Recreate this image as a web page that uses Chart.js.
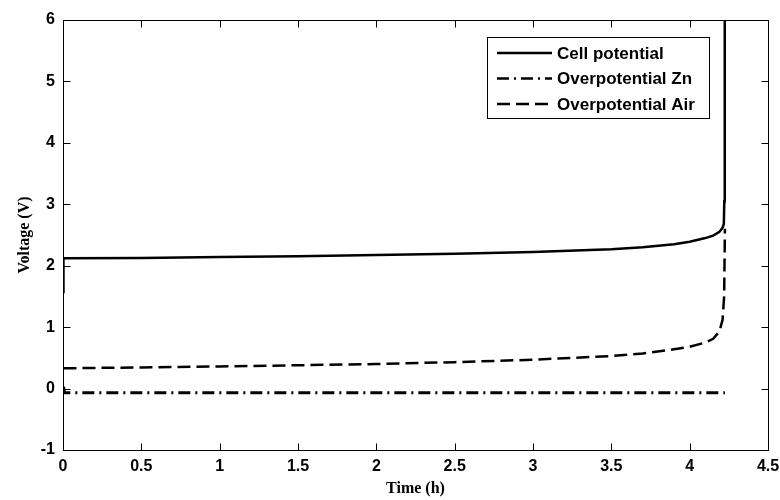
<!DOCTYPE html>
<html>
<head>
<meta charset="utf-8">
<script src="https://cdn.jsdelivr.net/npm/chart.js@4/dist/chart.umd.min.js"></script>
<style>
  html, body { margin: 0; background: #fff; }
</style>
</head>
<body>
<canvas id="chart" width="780" height="500"></canvas>
<script>
// discharge curves: time (h) vs voltage (V)
const cellTime = [0.003, 0.003, 0.5, 1, 1.5, 2, 2.5, 3, 3.5, 3.7, 3.9, 4.0, 4.1, 4.15, 4.19, 4.21, 4.218, 4.221, 4.223, 4.225];
const cellVolt = [1.55, 2.12, 2.125, 2.14, 2.155, 2.175, 2.195, 2.225, 2.27, 2.30, 2.35, 2.39, 2.45, 2.49, 2.55, 2.62, 2.68, 3.05, 3.1, 6.0];

const znTime = [0.003, 0.01, 4.225];
const znVolt = [0.03, -0.07, -0.07];

const airTime = [0.003, 0.5, 1, 1.5, 2, 2.5, 3, 3.5, 3.7, 3.9, 4.0, 4.1, 4.15, 4.19, 4.21, 4.22, 4.225];
const airVolt = [0.33, 0.345, 0.36, 0.38, 0.40, 0.43, 0.47, 0.53, 0.57, 0.64, 0.68, 0.75, 0.81, 0.93, 1.12, 1.5, 2.6];

const seriesNames = ['Cell potential', 'Overpotential Zn', 'Overpotential Air'];
const seriesDash = [[], [12, 5, 2, 5], [13, 6]];

const xTicks = [0, 0.5, 1, 1.5, 2, 2.5, 3, 3.5, 4, 4.5];
const yTicks = [-1, 0, 1, 2, 3, 4, 5, 6];

const pts = (xs, ys) => xs.map((x, i) => ({ x, y: ys[i] }));

// box around the plot with inward ticks on all four sides, plus the legend
const frame = {
  id: 'frame',
  afterDraw(chart) {
    const { ctx, chartArea: a, scales: { x, y } } = chart;
    const L = Math.round(a.left) + 0.5, R = Math.round(a.right) + 0.5;
    const T = Math.round(a.top) + 0.5, B = Math.round(a.bottom) + 0.5;
    ctx.save();
    ctx.strokeStyle = '#000';
    ctx.lineWidth = 1;
    ctx.setLineDash([]);
    ctx.strokeRect(L, T, R - L, B - T);
    ctx.beginPath();
    xTicks.forEach(v => {
      const px = Math.round(x.getPixelForValue(v)) + 0.5;
      ctx.moveTo(px, B); ctx.lineTo(px, B - 7);
      ctx.moveTo(px, T); ctx.lineTo(px, T + 7);
    });
    yTicks.forEach(v => {
      const py = Math.round(y.getPixelForValue(v)) + 0.5;
      ctx.moveTo(L, py); ctx.lineTo(L + 7, py);
      ctx.moveTo(R, py); ctx.lineTo(R - 7, py);
    });
    ctx.stroke();

    // legend box
    const bx = 487.5, by = 37.5, bw = 222, bh = 81;
    ctx.fillStyle = '#fff';
    ctx.fillRect(bx, by, bw, bh);
    ctx.strokeRect(bx, by, bw, bh);
    ctx.font = 'bold 17px "Liberation Sans", Arial, sans-serif';
    ctx.textBaseline = 'middle';
    ctx.fillStyle = '#000';
    seriesNames.forEach((name, i) => {
      const ry = 53 + i * 25.5;
      ctx.beginPath();
      ctx.lineWidth = 2.5;
      ctx.setLineDash(seriesDash[i]);
      ctx.moveTo(497, ry); ctx.lineTo(552, ry);
      ctx.stroke();
      ctx.setLineDash([]);
      ctx.fillText(name, 557, ry + 1, 145);
    });
    ctx.restore();
  }
};

const lineStyle = i => ({
  borderColor: '#000', borderWidth: i === 1 ? 3 : 2.5, borderDash: seriesDash[i],
  pointRadius: 0, tension: 0, fill: false
});

const tickFont = { family: '"Liberation Sans", Arial, sans-serif', weight: 'bold', size: 16 };
const titleFont = { family: '"Liberation Serif", "Times New Roman", serif', weight: 'bold', size: 16 };

new Chart(document.getElementById('chart'), {
  type: 'line',
  data: {
    datasets: [
      { label: seriesNames[0], data: pts(cellTime, cellVolt), ...lineStyle(0) },
      { label: seriesNames[1], data: pts(znTime, znVolt), ...lineStyle(1) },
      { label: seriesNames[2], data: pts(airTime, airVolt), ...lineStyle(2) }
    ]
  },
  options: {
    responsive: false,
    animation: false,
    layout: { padding: { top: 20, right: 12, left: 0, bottom: 0 } },
    plugins: { legend: { display: false }, tooltip: { enabled: false } },
    scales: {
      x: {
        type: 'linear', min: 0, max: 4.5,
        afterBuildTicks: s => { s.ticks = xTicks.map(v => ({ value: v })); },
        afterFit: s => { s.height = 50; s.paddingLeft = 0; s.paddingRight = 0; },
        grid: { display: false, drawTicks: false },
        border: { display: false },
        ticks: { padding: 7, color: '#000', maxRotation: 0, font: tickFont, callback: v => String(v) },
        title: {
          display: true, text: 'Time (h)', color: '#000', font: titleFont,
          padding: { top: 0, bottom: 2 }
        }
      },
      y: {
        type: 'linear', min: -1, max: 6,
        afterBuildTicks: s => { s.ticks = yTicks.map(v => ({ value: v })); },
        afterFit: s => { s.width = 63; s.paddingTop = 0; s.paddingBottom = 0; },
        grid: { display: false, drawTicks: false },
        border: { display: false },
        ticks: { padding: 8, color: '#000', font: tickFont, callback: v => String(v) },
        title: {
          display: true, text: 'Voltage (V)', color: '#000', font: titleFont,
          padding: { top: 15, bottom: 0 }
        }
      }
    }
  },
  plugins: [frame]
});
</script>
</body>
</html>
